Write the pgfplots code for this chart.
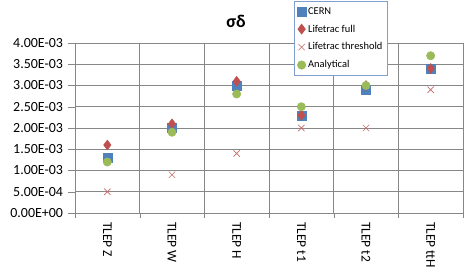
\documentclass[border=0pt]{standalone}
\usepackage{pgfplots}
\pgfplotsset{compat=1.18}
\usepackage{fontspec}
\setmainfont{Carlito}
\definecolor{cblue}{HTML}{4F81BD}
\definecolor{cred}{HTML}{C0504D}
\definecolor{cgreen}{HTML}{9BBB59}
\definecolor{gridc}{HTML}{878787}
\definecolor{legb}{HTML}{7F9FD0}
\begin{document}
\begin{tikzpicture}[x=1bp,y=1bp]
\begin{axis}[
  scale only axis,
  width=388bp, height=170bp,
  xmin=-0.5, xmax=5.5,
  ymin=0, ymax=0.004,
  xtick={0,1,2,3,4,5},
  xticklabels={TLEP Z,TLEP W,TLEP H,TLEP t1,TLEP t2,TLEP ttH},
  x tick label style={rotate=-90, anchor=west, font=\fontsize{13.5}{14}\selectfont, inner sep=2pt},
  major x tick style={draw=none},
  minor xtick={-0.5,0.5,1.5,2.5,3.5,4.5,5.5},
  xminorgrids=true,
  minor x tick style={draw=gridc},
  minor tick length=5bp,
  ytick={0,0.0005,0.001,0.0015,0.002,0.0025,0.003,0.0035,0.004},
  yticklabels={0.00E+00,5.00E-04,1.00E-03,1.50E-03,2.00E-03,2.50E-03,3.00E-03,3.50E-03,4.00E-03},
  scaled y ticks=false,
  y tick label style={font=\fontsize{14}{15}\selectfont, xshift=-1.5bp},
  ymajorgrids=true,
  major tick length=7bp,
  tick align=outside,
  tick pos=left,
  grid style={draw=gridc, line width=0.6pt},
  major y tick style={draw=gridc},
  axis line style={draw=gridc, line width=0.6pt},
  axis x line*=bottom, axis y line*=left,
  title={\fontsize{18}{20}\selectfont\bfseries σδ},
  title style={at={(0.415,1)}, anchor=south, yshift=6bp},
  legend style={at={(0.564,1.247)}, anchor=north west, draw=legb, line width=0.6pt,
    font=\fontsize{10.5}{12}\selectfont, row sep=5.2bp, inner xsep=3bp, inner ysep=4bp,
    cells={anchor=west}, fill=white},
  legend cell align=left,
  clip=false,
]
\addplot[only marks, mark=square*, mark size=4.5bp, color=cblue] coordinates {(0,0.0013)(1,0.0020)(2,0.0030)(3,0.0023)(4,0.0029)(5,0.0034)};
\addlegendentry{CERN}
\addplot[only marks, mark=diamond*, mark size=5bp, color=cred] coordinates {(0,0.0016)(1,0.0021)(2,0.0031)(3,0.0023)(4,0.0030)(5,0.0034)};
\addlegendentry{Lifetrac full}
\addplot[only marks, mark=x, mark size=4.5bp, color=cred!85!white, line width=0.6pt] coordinates {(0,0.0005)(1,0.0009)(2,0.0014)(3,0.0020)(4,0.0020)(5,0.0029)};
\addlegendentry{Lifetrac threshold}
\addplot[only marks, mark=*, mark size=4.2bp, color=cgreen] coordinates {(0,0.0012)(1,0.0019)(2,0.0028)(3,0.0025)(4,0.0030)(5,0.0037)};
\addlegendentry{Analytical}
\draw[gridc, line width=0.6pt] (rel axis cs:0,1) -- (rel axis cs:1,1) -- (rel axis cs:1,0);
\end{axis}
\path (-75bp,-60bp) rectangle (396bp,213bp);
\end{tikzpicture}
\end{document}
